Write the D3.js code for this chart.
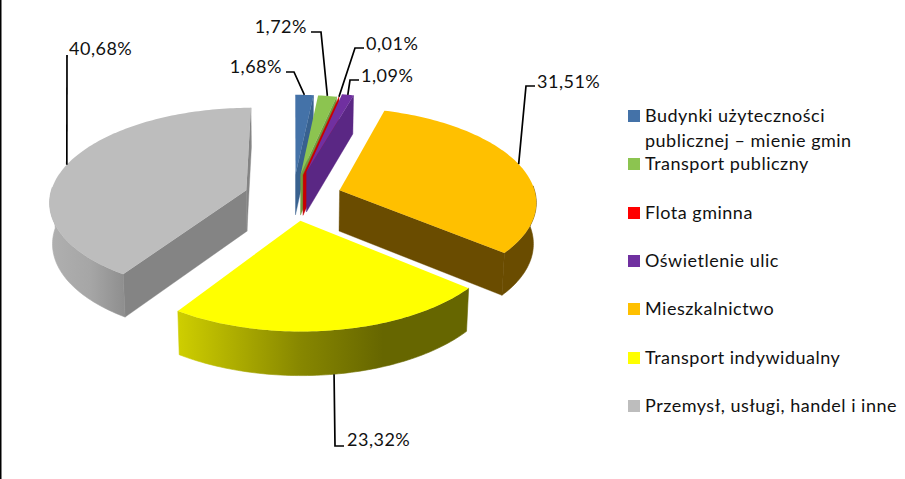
<!DOCTYPE html>
<html><head><meta charset="utf-8">
<script src="https://cdn.jsdelivr.net/npm/d3@7/dist/d3.min.js"></script>
<style>html,body{margin:0;padding:0;background:#fff}svg{display:block}text{font-family:Lato,"Noto Sans",sans-serif;fill:#111;letter-spacing:.5px}</style>
</head><body><svg id="c" width="905" height="479"></svg>
<script>
const categories=[["Budynki użyteczności","publicznej – mienie gmin"],["Transport publiczny"],["Flota gminna"],["Oświetlenie ulic"],["Mieszkalnictwo"],["Transport indywidualny"],["Przemysł, usługi, handel i inne"]];
const shares=[1.68,1.72,0.01,1.09,31.51,23.32,40.68];
const topColors=["#4472a8","#8cc450","#ee0000","#7030a0","#ffc000","#ffff00","#bdbdbd"];
const wallColors=["#38618f","#6f9c40","#c80000","#5a2784","#6a4c00","#666600","#848484"];
const explodeBy=[0.25,0.25,0.25,0.29,0.25,0.25,0.25];
// label box placement: text x, text centre y, anchor, elbow x, elbow y, stub end x
const labelPlacement=[[282,67,"end",294,72,286],[307,27,"end",321,32,311],[366,44,"start",355,48,364],[361,76,"start",350,80,359],[537,82,"start",526,86,535],[347,440,"start",335,446,344],[69,49,"start",67,55,null]];
const legendY=[116,164,213,261,309,358,406];

const svg=d3.select("#c");
const W=905,H=479,cx=293,cy=197,rx=196.5,ry=93,persp=0.11,thick=41;
svg.append("rect").attr("width",W).attr("height",H).attr("fill","#fff");
svg.append("line").attr("x1",0.5).attr("x2",0.5).attr("y1",0).attr("y2",H).attr("stroke","#000").attr("stroke-width",2);

const pie=d3.pie().sort(null).value(d=>d)(shares);
function proj(u,v){const s=1/(1-persp*v);return {x:cx+rx*u*s,y:cy+ry*v*s,s};}
function upper(p){return [p.x,p.y];}
function lower(p){return [cx+(p.x-cx)*0.988,p.y+thick*Math.sqrt(p.s)];}
function pt(a,r,mid,ex){return proj(r*Math.sin(a)+ex*Math.sin(mid),-r*Math.cos(a)-ex*Math.cos(mid));}
const line=d3.line();
const defs=svg.append("defs");
function grad(id,stops){const g=defs.append("linearGradient").attr("id",id).attr("gradientUnits","userSpaceOnUse").attr("x1",stops[0][0]).attr("x2",stops[stops.length-1][0]).attr("y1",0).attr("y2",0);
 const a=stops[0][0],b=stops[stops.length-1][0];stops.forEach(s=>g.append("stop").attr("offset",(s[0]-a)/(b-a)).attr("stop-color",s[1]));return `url(#${id})`;}
const outerFill={5:grad("gy",[[177,"#cfcf00"],[300,"#878700"],[383,"#666600"],[468,"#666600"]]),6:grad("gg",[[49,"#b0b0b0"],[90,"#a6a6a6"],[125,"#8e8e8e"]])};

const order=[6,0,1,2,3,4,5];
order.forEach(i=>{
 const d=pie[i],mid=(d.startAngle+d.endAngle)/2,ex=explodeBy[i];
 const n=Math.max(2,Math.ceil((d.endAngle-d.startAngle)/0.02));
 const angles=d3.range(n+1).map(k=>d.startAngle+(d.endAngle-d.startAngle)*k/n);
 const arc=angles.map(a=>pt(a,1,mid,ex));
 const apex=pt(0,0,mid,ex);
 const g=svg.append("g");
 const front=arc.filter((p,k)=>Math.cos(angles[k])<=0.05);
 const walls=[];
 if(Math.sin(d.startAngle)<0) walls.push(arc[0]);
 if(Math.sin(d.endAngle)>-0.01) walls.push(arc[n]);
 walls.forEach(e=>{
  g.append("path").attr("d",line([upper(e),upper(apex),lower(apex),lower(e)])+"Z").attr("fill",wallColors[i]).attr("stroke",wallColors[i]).attr("stroke-width",0.4);
 });
 if(front.length>1){
  const f=outerFill[i]||wallColors[i];
  g.append("path").attr("d",line(front.map(upper).concat(front.slice().reverse().map(lower)))+"Z").attr("fill",f).attr("stroke",f).attr("stroke-width",0.6);
 }
 g.append("path").attr("d",line([upper(apex)].concat(arc.map(upper)))+"Z").attr("fill",topColors[i]);
});

pie.forEach((d,i)=>{
 const mid=(d.startAngle+d.endAngle)/2,e=pt(mid,1,mid,explodeBy[i]),L=labelPlacement[i];
 const a=i===5?lower(e):upper(e);
 const pts=L[5]===null?[a,[L[3],L[4]]]:[a,[L[3],L[4]],[L[5],L[4]]];
 svg.append("path").attr("d",line(pts)).attr("fill","none").attr("stroke","#000").attr("stroke-width",1.7);
 svg.append("text").attr("x",L[0]).attr("y",L[1]).attr("dy","0.35em").attr("text-anchor",L[2]).attr("font-size",18)
  .text(d3.format(".2f")(shares[i]).replace(".",",")+"%");
});

categories.forEach((lines,i)=>{
 svg.append("rect").attr("x",628).attr("y",legendY[i]-6).attr("width",12).attr("height",12).attr("fill",i===2?"#ff0000":topColors[i]);
 lines.forEach((t,j)=>svg.append("text").attr("x",645).attr("y",legendY[i]+j*25).attr("dy","0.35em").attr("font-size",18).text(t));
});
</script></body></html>
